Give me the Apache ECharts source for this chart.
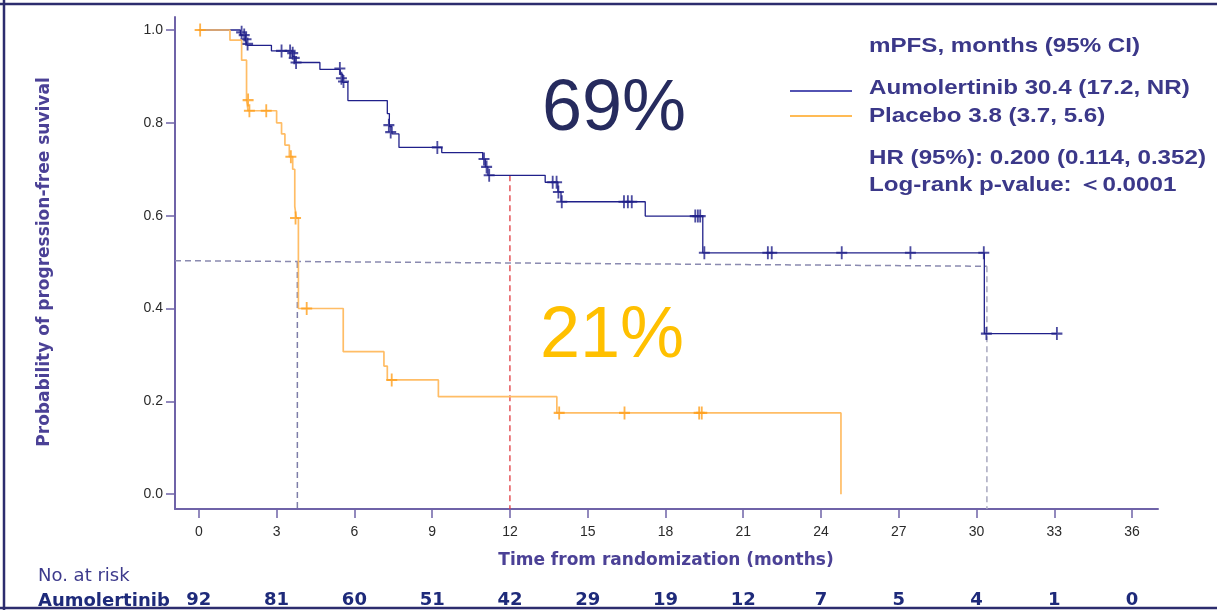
<!DOCTYPE html>
<html>
<head>
<meta charset="utf-8">
<script src="https://cdn.jsdelivr.net/npm/echarts@6/dist/echarts.min.js"></script>
<style>
html,body{margin:0;padding:0;background:#fff;}
#chart{width:1217px;height:610px;}
</style>
</head>
<body>
<div id="chart"></div>
<script>
// ---- data ----
const xTicks = [0, 3, 6, 9, 12, 15, 18, 21, 24, 27, 30, 33, 36];
const yTicks = [0, 0.2, 0.4, 0.6, 0.8, 1.0];
const riskAumolertinib = [92, 81, 60, 51, 42, 29, 19, 12, 7, 5, 4, 1, 0];

// Kaplan-Meier steps [time, survival after event]
const aumoSteps = [[0,1.0],[1.6,0.989],[1.8,0.978],[1.87,0.967],[2.8,0.955],[3.6,0.943],[3.7,0.93],[4.67,0.915],[5.45,0.905],[5.55,0.887],[5.75,0.848],[7.27,0.82],[7.35,0.792],[7.45,0.776],[7.72,0.747],[9.37,0.736],[10.95,0.722],[11.05,0.705],[11.15,0.687],[13.36,0.672],[13.85,0.651],[13.97,0.63],[17.22,0.599],[19.44,0.52],[30.3,0.346],[33.1,0.346]];
const aumoCensor = [[1.65,0.995],[1.75,0.989],[1.82,0.98],[1.88,0.97],[3.19,0.955],[3.52,0.955],[3.62,0.95],[3.68,0.94],[3.75,0.93],[5.44,0.917],[5.5,0.896],[5.58,0.889],[7.33,0.795],[7.4,0.78],[9.2,0.747],[11.0,0.722],[11.1,0.705],[11.2,0.687],[13.65,0.672],[13.8,0.672],[13.87,0.651],[14.0,0.63],[16.4,0.63],[16.55,0.63],[16.7,0.63],[19.15,0.599],[19.25,0.599],[19.34,0.599],[19.5,0.52],[21.95,0.52],[22.1,0.52],[24.8,0.52],[27.45,0.52],[30.28,0.52],[30.38,0.346],[33.1,0.346]];
const placeboSteps = [[0,1.0],[1.2,0.978],[1.65,0.935],[1.84,0.849],[1.9,0.826],[3.0,0.80],[3.19,0.776],[3.32,0.752],[3.49,0.727],[3.62,0.70],[3.7,0.62],[3.76,0.595],[3.84,0.40],[5.57,0.307],[7.14,0.276],[7.27,0.246],[9.24,0.21],[13.81,0.175],[24.77,0.0]];
const placeboCensor = [[0.05,1.0],[1.9,0.849],[1.95,0.826],[2.6,0.826],[3.55,0.727],[3.73,0.595],[4.16,0.40],[7.44,0.246],[13.9,0.175],[16.42,0.175],[19.3,0.175],[19.4,0.175]];

const xMin = -0.92, xMax = 37.0, yMin = -0.032, yMax = 1.028;
const medianH = [[xMin, 0.503], [30.4, 0.491]];
const placeboMedianV = [[3.8, 0.5], [3.8, yMin]];
const aumoMedianV = [[30.4, 0.491], [30.4, yMin]];
const landmark12 = [[12, 0.687], [12, yMin]];

// ---- styles ----
const axisColor = '#6f63a8';
const textPurple = '#3b3889';
const navy = '#20208a';
const orangeLine = '#ffbd66';
const orangeMark = '#ff9f1c';
const plus = 'path://M5,0 H7 V5 H12 V7 H7 V12 H5 V7 H0 V5 H5 Z';
const FONT = 'DejaVu Sans';
const LEG_FONT = 'bold 21px "Liberation Sans"';
const LEG_SX = 1.15;

const chart = echarts.init(document.getElementById('chart'), null, {renderer: 'canvas'});

function dashed(data, color, width) {
  return {type: 'line', data: data, symbol: 'none', silent: true, z: 1,
    lineStyle: {color: color, width: width || 1.5, type: [6, 4]}};
}
function legText(txt, y) {
  return {type: 'text', x: 869, y: y, scaleX: LEG_SX,
    style: {text: txt, font: LEG_FONT, fill: textPurple, textAlign: 'left', textVerticalAlign: 'middle'}};
}

chart.setOption({
  animation: false,
  backgroundColor: '#fff',
  grid: {left: 175, right: 59, top: 17, bottom: 101, containLabel: false},
  xAxis: [{
    type: 'value', min: xMin, max: xMax,
    axisLine: {show: true, onZero: false, lineStyle: {color: axisColor, width: 2}},
    axisTick: {show: true, customValues: xTicks, length: 9, lineStyle: {color: axisColor, width: 1.5}},
    axisLabel: {show: true, customValues: xTicks, margin: 16, color: '#2a2a2a', fontSize: 14, fontFamily: 'Liberation Sans'},
    splitLine: {show: false}
  }, {
    type: 'value', min: xMin, max: xMax, position: 'bottom', offset: 76,
    axisLine: {show: false}, axisTick: {show: false}, splitLine: {show: false},
    axisLabel: {show: true, customValues: xTicks, margin: 6, color: '#1e2a7a', fontSize: 18, fontWeight: 'bold', fontFamily: FONT,
      formatter: function (v) { const i = xTicks.indexOf(v); return i >= 0 ? String(riskAumolertinib[i]) : ''; }}
  }],
  yAxis: {
    type: 'value', min: yMin, max: yMax,
    axisLine: {show: true, onZero: false, lineStyle: {color: axisColor, width: 2}},
    axisTick: {show: true, customValues: yTicks, length: 9, lineStyle: {color: axisColor, width: 1.5}},
    axisLabel: {show: true, customValues: yTicks, margin: 12, color: '#2a2a2a', fontSize: 14, fontFamily: 'Liberation Sans',
      formatter: function (v) { return v.toFixed(1); }},
    splitLine: {show: false}
  },
  series: [
    dashed(medianH, '#8a8ab0', 1.5),
    dashed(placeboMedianV, '#7d7da8', 1.5),
    dashed(aumoMedianV, '#a8a8bf', 1.5),
    dashed(landmark12, '#e0393e', 1.3),
    {type: 'line', name: 'Aumolertinib', data: aumoSteps, step: 'end', symbol: 'none', z: 3,
      lineStyle: {color: navy, width: 1.3}},
    {type: 'scatter', data: aumoCensor, symbol: plus, symbolSize: [11, 13], z: 4,
      itemStyle: {color: navy}},
    {type: 'line', name: 'Placebo', data: placeboSteps, step: 'end', symbol: 'none', z: 5,
      lineStyle: {color: orangeLine, width: 1.7}},
    {type: 'scatter', data: placeboCensor, symbol: plus, symbolSize: [11, 13], z: 6,
      itemStyle: {color: orangeMark}}
  ],
  graphic: [
    // frame
    {type: 'line', shape: {x1: 4, y1: 0, x2: 4, y2: 610}, style: {stroke: '#2c2c6e', lineWidth: 2.5}},
    {type: 'line', shape: {x1: 0, y1: 4, x2: 1217, y2: 4}, style: {stroke: '#2c2c6e', lineWidth: 2.5}},
    {type: 'line', shape: {x1: 0, y1: 608, x2: 1217, y2: 608}, style: {stroke: '#2c2c6e', lineWidth: 2.5}},
    // axis titles
    {type: 'text', x: 45, y: 262, rotation: Math.PI / 2,
      style: {text: 'Probability of progression-free suvival', font: 'bold 17px "DejaVu Sans"', fill: '#4b4196', textAlign: 'center', textVerticalAlign: 'middle'}},
    {type: 'text', x: 666, y: 561,
      style: {text: 'Time from randomization (months)', font: 'bold 17px "DejaVu Sans"', fill: '#4b4196', textAlign: 'center', textVerticalAlign: 'middle'}},
    // risk table labels
    {type: 'text', x: 38, y: 576,
      style: {text: 'No. at risk', font: '18px "DejaVu Sans"', fill: '#3d3a8c', textAlign: 'left', textVerticalAlign: 'middle'}},
    {type: 'text', x: 38, y: 601,
      style: {text: 'Aumolertinib', font: 'bold 18px "DejaVu Sans"', fill: '#1e2a7a', textAlign: 'left', textVerticalAlign: 'middle'}},
    // legend
    legText('mPFS, months (95% CI)', 46),
    {type: 'line', shape: {x1: 790, y1: 91, x2: 852, y2: 91}, style: {stroke: '#1a1a9a', lineWidth: 1.5}},
    legText('Aumolertinib 30.4 (17.2, NR)', 88),
    {type: 'line', shape: {x1: 790, y1: 116, x2: 852, y2: 116}, style: {stroke: '#ffa41c', lineWidth: 1.5}},
    legText('Placebo 3.8 (3.7, 5.6)', 116),
    legText('HR (95%): 0.200 (0.114, 0.352)', 158),
    legText('Log-rank p-value: ＜0.0001', 185),
    // landmark percentages
    {type: 'text', x: 614, y: 110,
      style: {text: '69%', font: '72px "Liberation Sans"', fill: '#262b5e', textAlign: 'center', textVerticalAlign: 'middle'}},
    {type: 'text', x: 612, y: 337,
      style: {text: '21%', font: '72px "Liberation Sans"', fill: '#ffc000', textAlign: 'center', textVerticalAlign: 'middle'}}
  ]
});
</script>
</body>
</html>
